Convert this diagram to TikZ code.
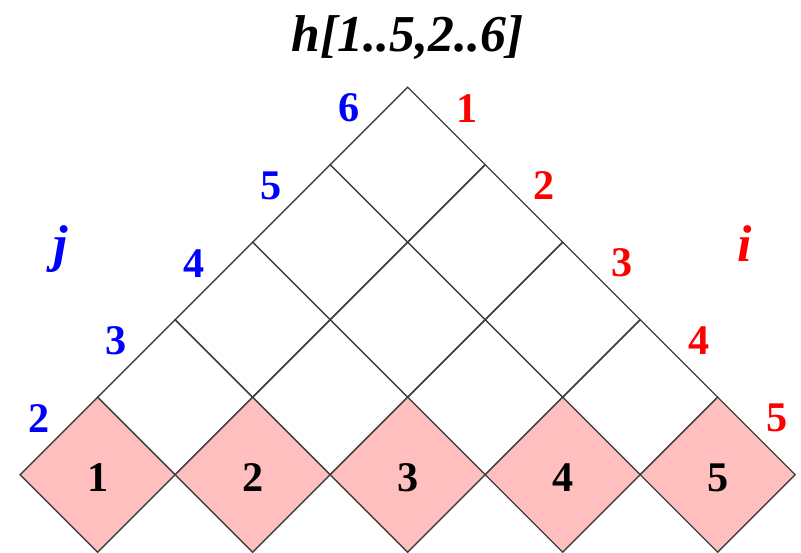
\documentclass[tikz,border=0pt]{standalone}
\usepackage{fontspec}
\setmainfont{Liberation Serif}
\usepackage{tikz}
\usetikzlibrary{positioning}
\definecolor{cellpink}{RGB}{255,191,191}

\begin{document}
\begin{tikzpicture}[x=1cm,y=1cm,
  cell/.style={line width=0.5pt, draw=black!75},
  num/.style={font=\fontsize{15.5}{17}\selectfont\bfseries},
  big/.style={font=\fontsize{19}{21}\selectfont\bfseries\itshape, anchor=base}]
\useasboundingbox (-0.26,-1) rectangle (10.075,6.125);
% triangle of cells above the base row
\foreach \r in {1,...,4} {
  \pgfmathtruncatemacro\kmax{4-\r}
  \foreach \k in {0,...,\kmax}
    \draw[cell] ({\r+2*\k},\r) -- ++(1,1) -- ++(1,-1) -- ++(-1,-1) -- cycle;
}
% base row
\foreach \k in {1,...,5} {
  \draw[cell, fill=cellpink] ({2*\k-2},0) -- ++(1,1) -- ++(1,-1) -- ++(-1,-1) -- cycle;
  \node[num] (b\k) at ({2*\k-1},-0.04) {\k};
}
\node[big] (title) at (5,5.46) {h[1..5,2..6]};
% j index, left side
\node[big, text=blue] (jname) at (0.52,2.75) {j};
\node[num, text=blue] (j2) at (0.24,0.73) {2};
\node[num, text=blue] (j3) at (1.24,1.73) {3};
\node[num, text=blue] (j4) at (2.24,2.73) {4};
\node[num, text=blue] (j5) at (3.24,3.73) {5};
\node[num, text=blue] (j6) at (4.24,4.73) {6};
% i index, right side
\node[big, text=red] (iname) at (9.35,2.75) {i};
\node[num, text=red] (i1) at (5.76,4.73) {1};
\node[num, text=red] (i2) at (6.76,3.73) {2};
\node[num, text=red] (i3) at (7.76,2.73) {3};
\node[num, text=red] (i4) at (8.76,1.73) {4};
\node[num, text=red] (i5) at (9.76,0.73) {5};
\end{tikzpicture}
\end{document}
